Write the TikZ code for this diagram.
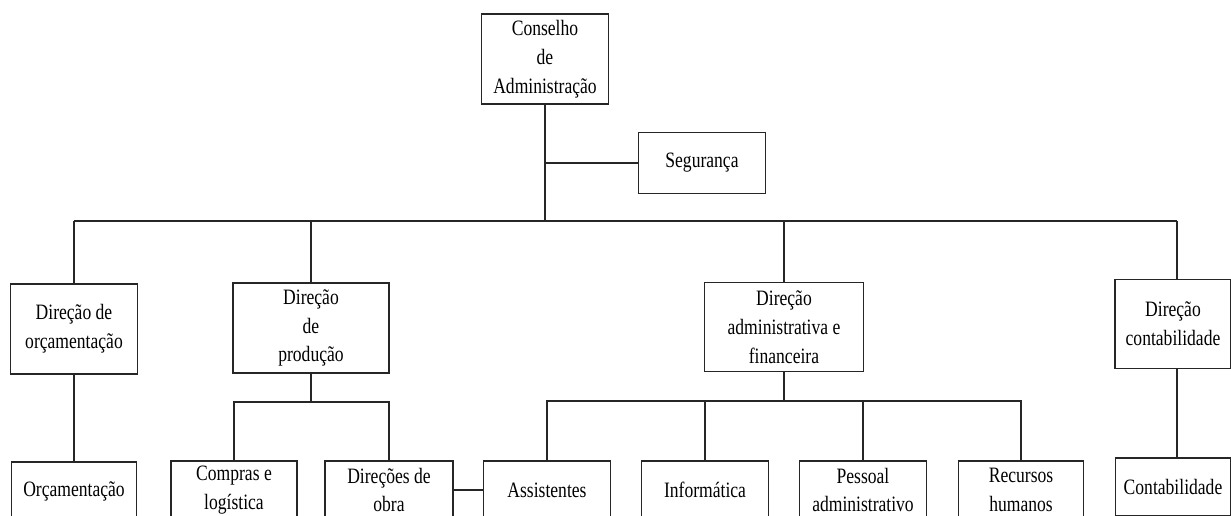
\documentclass[tikz,border=0pt]{standalone}
\usepackage{fontspec}
\setmainfont{Liberation Serif}[FakeStretch=0.8]

\begin{document}
\begin{tikzpicture}[
  x=0.02cm, y=-0.02cm,
  box/.style={draw=black!85, line width=1.1pt, inner sep=0pt, align=center, font=\fontsize{12.5}{16.4}\selectfont},
  upper/.style={box, minimum height=1.8cm},
  lower/.style={box, minimum height=1.16cm},
  link/.style={draw=black!85, line width=1.1pt},
]
  \useasboundingbox (0,0) rectangle (1231,516);
  \clip (0,0) rectangle (1231,516);

  % top
  \node[upper, minimum width=2.54cm] (conselho) at (545,59) {Conselho\\de\\Administração};
  \node[box, minimum width=2.54cm, minimum height=1.22cm] (seguranca) at (702,163) {Segurança};

  % directions
  \node[upper, minimum width=2.54cm] (dirorc) at (74,329) {Direção de\\orçamentação};
  \node[upper, minimum width=3.12cm] (dirprod) at (311,328) {Direção\\de\\produção};
  \node[upper, minimum width=3.18cm, minimum height=1.78cm] (diradm) at (784,327) {Direção\\administrativa e\\financeira};
  \node[upper, minimum width=2.32cm, minimum height=1.78cm] (dircont) at (1173,324) {Direção\\contabilidade};

  % services
  \node[lower, minimum width=2.5cm] (orc) at (74,491) {Orçamentação};
  \node[lower, minimum width=2.52cm] (compras) at (234,490) {Compras e\\logística};
  \node[lower, minimum width=2.56cm] (obra) at (389,490) {Direções de\\obra};
  \node[lower, minimum width=2.54cm] (assist) at (547,490) {Assistentes};
  \node[lower, minimum width=2.54cm] (info) at (705,490) {Informática};
  \node[lower, minimum width=2.54cm] (pessoal) at (863,490) {Pessoal\\administrativo};
  \node[lower, minimum width=2.5cm] (recursos) at (1021,490) {Recursos\\humanos};
  \node[lower, minimum width=2.3cm] (contab) at (1173,487) {Contabilidade};

  % bus points
  \coordinate (trunk) at (545,221);
  \coordinate (busL) at (74,221);
  \coordinate (busR) at (1177,221);
  \coordinate (prodbus) at (311,402);
  \coordinate (admbus) at (784,401);

  \draw[link] (conselho) -- (trunk);
  \draw[link] (seguranca.west) -- (seguranca.west -| trunk);
  \draw[link] (busL) -- (busR);
  \draw[link] (busL) -- (dirorc.north);
  \draw[link] (dirprod.north |- trunk) -- (dirprod.north);
  \draw[link] (diradm.north |- trunk) -- (diradm.north);
  \draw[link] (busR) -- (busR |- dircont.north);

  \draw[link] (dirorc) -- (orc);

  \draw[link] (dirprod) -- (prodbus);
  \draw[link] (compras.north) |- (prodbus) -| (obra.north);
  \draw[link] (obra.east) -- (assist.west);

  \draw[link] (diradm) -- (admbus);
  \draw[link] (assist.north) |- (admbus) -| (recursos.north);
  \draw[link] (info.north) -- (info.north |- admbus);
  \draw[link] (pessoal.north) -- (pessoal.north |- admbus);

  \draw[link] (dircont.south -| busR) -- (contab.north -| busR);
\end{tikzpicture}
\end{document}
